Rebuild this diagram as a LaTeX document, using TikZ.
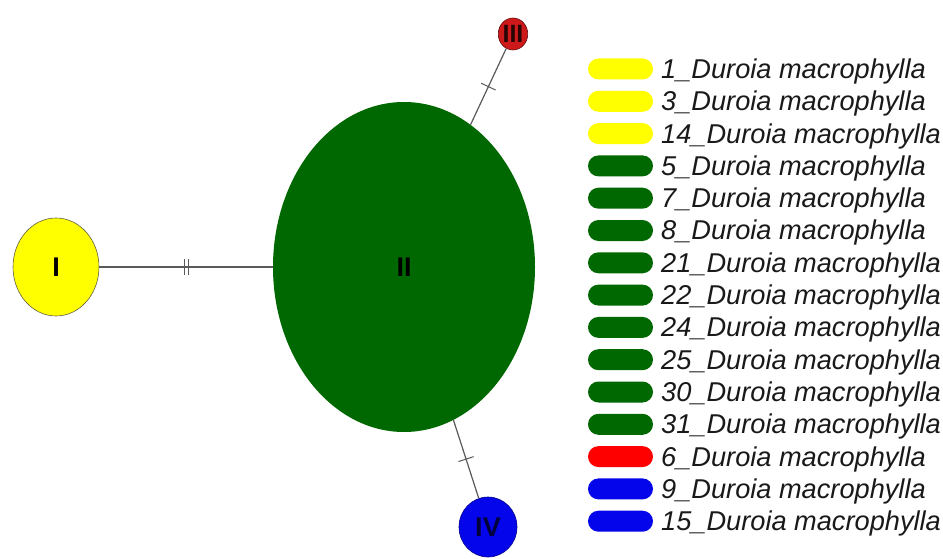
\documentclass[tikz,border=0pt]{standalone}
\usepackage{fontspec}
\setmainfont{Liberation Sans}
\usetikzlibrary{shapes.geometric,decorations.markings}

\definecolor{hapyellow}{RGB}{255,255,0}
\definecolor{hapgreen}{RGB}{0,104,0}
\definecolor{hapred}{RGB}{205,25,25}
\definecolor{hapblue}{RGB}{5,5,235}
\definecolor{legred}{RGB}{255,0,0}
\definecolor{edgegray}{RGB}{90,90,90}

\tikzset{
  hap/.style={shape=ellipse, inner sep=0pt, font=\fontsize{27}{27}\selectfont\bfseries},
  link/.style={draw=edgegray, line width=1.2pt},
  onetick/.style={postaction={decorate}, decoration={markings,
      mark=at position 0.5 with {\draw[edgegray, line width=1pt] (0,-8) -- (0,8);}}},
  twotick/.style={postaction={decorate}, decoration={markings,
      mark=at position 0.5 with {\draw[edgegray, line width=1pt] (-2,-8) -- (-2,8) (2,-8) -- (2,8);}}},
  swatch/.style={rounded corners=10.5pt, minimum width=65pt, minimum height=21pt, inner sep=0pt},
  legtext/.style={anchor=base west, inner sep=0pt, font=\fontsize{27.2}{27.2}\selectfont\itshape, text=black!90}
}

\begin{document}
\begin{tikzpicture}[x=1pt, y=-1pt]
  \useasboundingbox[fill=white] (0,0) rectangle (943,559);

  % haplotype circles
  \node[hap, fill=hapyellow, draw=black!70!yellow, line width=0.6pt,
        minimum width=86pt, minimum height=98pt] (h1) at (56,267) {I};
  \node[hap, fill=hapgreen, minimum width=262pt, minimum height=330pt] (h2) at (404,267) {II};
  \node[hap, fill=hapred, draw=black!50!hapred, line width=0.6pt,
        minimum width=29pt, minimum height=32pt, font=\fontsize{25}{25}\selectfont\bfseries,
        text=black!80!hapred] (h3) at (513,34) {III};
  \node[hap, fill=hapblue, draw=black!40!hapblue, line width=0.6pt,
        minimum width=58pt, minimum height=60pt, text=black!75!hapblue] (h4) at (488,527) {IV};

  % mutational steps
  \draw[link, twotick] (h1) -- (h2);
  \draw[link, onetick] (h2) -- (h3);
  \draw[link, onetick] (h2) -- (h4);

  % legend
  \foreach \lab/\col [count=\k from 0] in {
      1/hapyellow, 3/hapyellow, 14/hapyellow,
      5/hapgreen, 7/hapgreen, 8/hapgreen, 21/hapgreen, 22/hapgreen,
      24/hapgreen, 25/hapgreen, 30/hapgreen, 31/hapgreen,
      6/legred, 9/hapblue, 15/hapblue} {
    \pgfmathsetmacro{\yy}{69+32.3*\k}
    \node[swatch, fill=\col] (sw\k) at (620.5,\yy) {};
    \node[legtext] (lt\k) at (661,\yy+9.5) {\lab\_Duroia macrophylla};
  }
\end{tikzpicture}
\end{document}
